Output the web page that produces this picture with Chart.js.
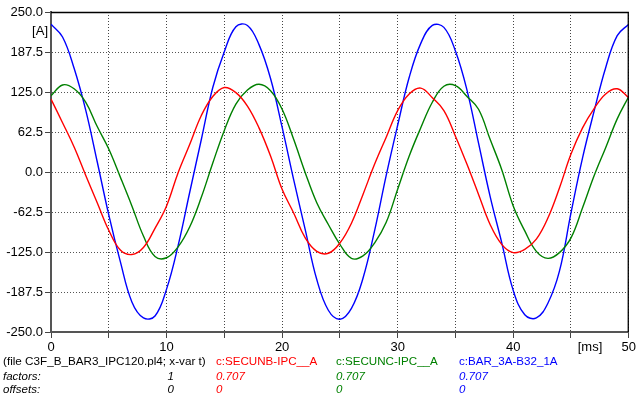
<!DOCTYPE html>
<html>
<head>
<meta charset="utf-8">
<script src="https://cdn.jsdelivr.net/npm/chart.js@4.4.1/dist/chart.umd.min.js"></script>
<style>
    html, body { margin: 0; padding: 0; background: #fff; }
    #wrap { width: 638px; height: 398px; }
</style>
</head>
<body>
<div id="wrap"><canvas id="plot"></canvas></div>
<script>
// time axis in ms, one sample per ms
const timeMs = [0, 1, 2, 3, 4, 5, 6, 7, 8, 9, 10, 11, 12, 13, 14, 15, 16, 17, 18, 19, 20,
    21, 22, 23, 24, 25, 26, 27, 28, 29, 30, 31, 32, 33, 34, 35, 36, 37, 38, 39, 40,
    41, 42, 43, 44, 45, 46, 47, 48, 49, 50];

// currents in A (already scaled by the 0.707 factor)
const secunB = [114, 77, 39, -5, -48, -91, -122, -129, -118, -88, -53, -1, 43, 88, 118, 132, 124,
    103, 69, 25, -27, -64, -103, -124, -127, -111, -80, -35, 12, 54, 96, 122, 131, 116,
    96, 56, 12, -35, -82, -113, -126, -121, -105, -72, -25, 28, 69, 99, 122, 130, 116];
const secunC = [119, 136, 130, 109, 71, 36, -8, -53, -100, -132, -134, -117, -86, -40, 14, 65, 106,
    128, 137, 127, 98, 51, -1, -48, -82, -113, -135, -131, -111, -79, -27, 25, 69, 109,
    134, 135, 118, 98, 51, 4, -53, -92, -124, -135, -126, -103, -56, -6, 38, 83, 118];
const bar3a = [231, 211, 162, 97, 16, -67, -140, -203, -228, -225, -183, -115, -32, 50, 132, 188, 227,
    229, 199, 146, 70, -12, -90, -168, -216, -230, -213, -166, -92, -6, 73, 148, 201, 229,
    226, 189, 128, 45, -38, -110, -185, -223, -228, -205, -155, -64, 22, 95, 163, 213, 231];

const seriesNames = ['c:SECUNB-IPC__A', 'c:SECUNC-IPC__A', 'c:BAR_3A-B32_1A'];
const seriesColors = ['#ff0000', '#008000', '#0000ff'];
const seriesFactors = ['0.707', '0.707', '0.707'];
const seriesOffsets = ['0', '0', '0'];

const yTicks = [-250, -187.5, -125, -62.5, 0, 62.5, 125, 187.5, 250];

const FONT = "'Liberation Sans', Arial, sans-serif";

function toPoints(values) {
    return values.map((v, i) => ({ x: timeMs[i], y: v }));
}

// frame, unit labels and the file/factor/offset block under the plot
const annotations = {
    id: 'annotations',
    afterDraw(chart) {
        const { ctx, chartArea } = chart;
        ctx.save();
        ctx.strokeStyle = '#000';
        ctx.lineWidth = 1.3;
        ctx.beginPath();
        ctx.moveTo(chartArea.left, chartArea.top + 0.5);
        ctx.lineTo(chartArea.right - 0.5, chartArea.top + 0.5);
        ctx.lineTo(chartArea.right - 0.5, chartArea.bottom);
        ctx.stroke();

        ctx.fillStyle = '#000';
        ctx.font = `13px ${FONT}`;
        ctx.textBaseline = 'middle';
        ctx.textAlign = 'right';
        ctx.fillText('[A]', 48, 31);
        ctx.textAlign = 'center';
        ctx.fillText('[ms]', 590, 347);

        ctx.textAlign = 'left';
        ctx.font = `11.7px ${FONT}`;
        ctx.fillText('(file C3F_B_BAR3_IPC120.pl4; x-var t)', 3, 362);
        ctx.font = `italic 11.5px ${FONT}`;
        ctx.fillText('factors:', 3, 377);
        ctx.fillText('offsets:', 3, 390);
        ctx.textAlign = 'right';
        ctx.fillText('1', 174, 377);
        ctx.fillText('0', 174, 390);

        const colX = [216, 336, 459];
        ctx.textAlign = 'left';
        seriesNames.forEach((name, i) => {
            ctx.fillStyle = seriesColors[i];
            ctx.font = `11.6px ${FONT}`;
            ctx.fillText(name, colX[i], 362);
            ctx.font = `italic 11.5px ${FONT}`;
            ctx.fillText(seriesFactors[i], colX[i], 377);
            ctx.fillText(seriesOffsets[i], colX[i], 390);
        });
        ctx.restore();
    }
};

const datasets = [secunB, secunC, bar3a].map((values, i) => ({
    label: seriesNames[i],
    data: toPoints(values),
    borderColor: seriesColors[i],
    borderWidth: 1.4,
    pointRadius: 0,
    tension: 0.4,
    fill: false
}));

new Chart(document.getElementById('plot'), {
    type: 'line',
    data: { datasets },
    options: {
        responsive: true,
        maintainAspectRatio: false,
        animation: false,
        layout: { padding: { left: 0, right: 8, top: 12, bottom: 0 } },
        plugins: {
            legend: { display: false },
            tooltip: { enabled: false }
        },
        scales: {
            x: {
                type: 'linear',
                min: 0,
                max: 50,
                afterFit: (scale) => { scale.height = 66; },
                border: { display: true, color: '#555', width: 2, dash: [1, 2] },
                grid: { color: '#444', lineWidth: 1, tickLength: 6, tickColor: '#444' },
                ticks: {
                    stepSize: 5,
                    autoSkip: false,
                    maxRotation: 0,
                    padding: 2,
                    color: '#000',
                    font: { family: FONT, size: 13 },
                    callback: (v) => (v % 10 === 0 ? String(v) : '')
                }
            },
            y: {
                min: -250,
                max: 250,
                afterFit: (scale) => { scale.width = 51; },
                afterBuildTicks: (scale) => { scale.ticks = yTicks.map((v) => ({ value: v })); },
                border: { display: true, color: '#555', width: 2, dash: [1, 2] },
                grid: { color: '#555', lineWidth: 1, tickLength: 6, tickColor: '#444' },
                ticks: {
                    padding: 2,
                    color: '#000',
                    font: { family: FONT, size: 13 },
                    callback: (v) => Number(v).toFixed(1)
                }
            }
        }
    },
    plugins: [annotations]
});
</script>
</body>
</html>
